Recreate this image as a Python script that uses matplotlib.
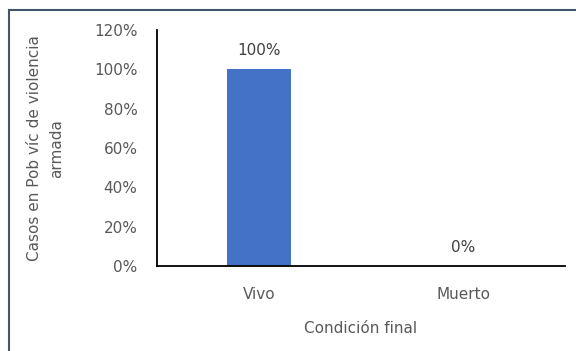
import matplotlib
matplotlib.use("Agg")
import matplotlib.pyplot as plt
from matplotlib.lines import Line2D
from matplotlib.ticker import PercentFormatter

categories = ["Vivo", "Muerto"]
values = [100, 0]
value_labels = ["100%", "0%"]
yticks = [0, 20, 40, 60, 80, 100, 120]

plt.rcParams['font.family'] = ['DejaVu Sans']
gray = "#595959"
fs = 11

fig = plt.figure(figsize=(5.76, 3.51), dpi=100)
ax = fig.add_axes([0.2726, 0.2422, 0.7084, 0.6723])

x = list(range(len(categories)))
bars = ax.bar(x, values, width=0.31, color="#4472C4")
ax.set_xlim(-0.5, 1.5)
ax.set_ylim(0, 120)
ax.set_yticks(yticks)
ax.yaxis.set_major_formatter(PercentFormatter(decimals=0))
ax.set_xticks(x)
ax.set_xticklabels(categories)

for s in ["top", "right"]:
    ax.spines[s].set_visible(False)
for s in ["left", "bottom"]:
    ax.spines[s].set_color("black")
    ax.spines[s].set_linewidth(1.3)

ax.tick_params(axis="both", length=0, labelsize=fs, labelcolor=gray)
ax.tick_params(axis="y", pad=14)
ax.tick_params(axis="x", pad=15)

for b, lab in zip(bars, value_labels):
    ax.annotate(lab, (b.get_x() + b.get_width() / 2, b.get_height()),
                xytext=(0, 8), textcoords="offset points",
                ha="center", va="bottom", fontsize=fs, color="#404040")

ax.set_xlabel("Condición final", fontsize=fs, color=gray, labelpad=14)
fig.text(0.079, 0.578, "Casos en Pob víc de violencia\narmada", rotation=90,
         ha="center", va="center", fontsize=fs, color=gray, linespacing=1.55,
         multialignment="center")

fig.add_artist(Line2D([0.0155, 1.0], [0.9729, 0.9729], transform=fig.transFigure,
                      color="#44546A", linewidth=1.5))
fig.add_artist(Line2D([0.0155, 0.0155], [0.9729, 0.0], transform=fig.transFigure,
                      color="#44546A", linewidth=1.5))

fig.savefig("out.png", dpi=100)
